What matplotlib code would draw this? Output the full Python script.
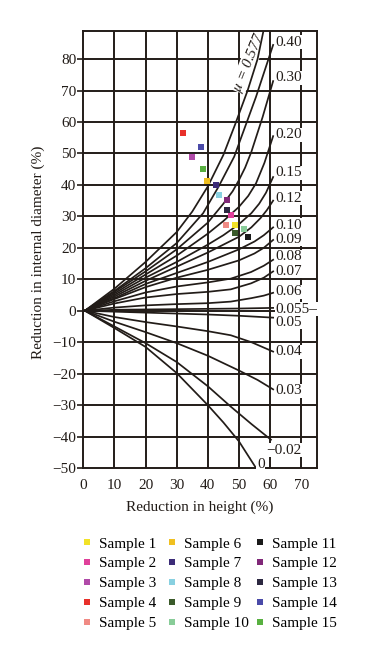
import matplotlib
matplotlib.use("Agg")
import matplotlib.pyplot as plt
from matplotlib.lines import Line2D

plt.rcParams["font.family"] = ["Liberation Serif", "DejaVu Serif"]
plt.rcParams["mathtext.fontset"] = "stix"

INK = "#221c18"
FS = 11

# Calibration curves (reduction in height %, reduction in internal diameter %)
c_0577 = [(0.5, 0), (10, 7), (20, 15.5), (30, 25), (35, 31.5), (40, 39.5), (45, 49.5),
          (48.7, 59), (52.8, 70), (56, 80), (57.9, 89)]
c_040 = [(0.5, 0), (10, 6.3), (20, 13.5), (30, 21.5), (38.5, 31), (43.5, 39.5), (48.5, 49),
         (52, 58.5), (55.5, 68), (58.5, 77), (61, 84.5)]
c_030 = [(0.5, 0), (10, 6), (20, 12.5), (30, 19.5), (40, 28), (45, 34), (48, 38), (50, 41.5),
         (52, 45.5), (54, 50.5), (57.6, 61.5), (61, 73)]
c_020 = [(0.5, 0), (10, 5.5), (20, 11.5), (30, 17.5), (40, 24.5), (45, 28.5), (50, 33),
         (53, 36.5), (55.5, 40.5), (58.2, 47), (61, 55.5)]
c_015 = [(0.5, 0), (10, 5), (20, 10.5), (30, 15.5), (40, 21), (45, 24), (50, 27.5),
         (54, 31), (56.5, 34), (58.7, 37.5), (61, 42.5)]
c_012 = [(0.5, 0), (10, 4.5), (20, 9.5), (30, 14), (40, 18.5), (45, 21), (50, 23.5),
         (54, 26.5), (57, 29.5), (59, 32), (61, 35)]
c_010 = [(0.5, 0), (10, 4), (20, 8.5), (30, 12), (40, 15.5), (45, 17.5), (50, 19.5),
         (55, 22), (58, 24), (61, 26.5)]
c_009 = [(0.5, 0), (10, 3.7), (20, 7.5), (30, 10.5), (40, 13), (45, 14.5), (50, 16),
         (55, 18.2), (58, 20), (61, 22.5)]
c_008 = [(0.5, 0), (10, 3), (20, 5.8), (30, 7.7), (40, 9), (47.4, 10.2), (53.9, 12.3),
         (58, 14.3), (61, 16.2)]
c_007 = [(0.5, 0), (10, 2.3), (20, 4.2), (30, 5.3), (40, 6), (47.4, 6.8), (53.9, 8.7),
         (58, 10.5), (61, 12.5)]
c_006 = [(0.5, 0), (10, 1), (20, 1.7), (30, 2.1), (40, 2.4), (47.4, 2.9), (54, 4),
         (58, 4.8), (61, 5.7)]
c_0055 = [(0.5, 0), (10, 0.3), (20, 0.4), (30, 0.5), (40, 0.6), (50, 0.7), (61, 0.9)]
c_005 = [(0.5, 0), (10, -0.3), (20, -0.6), (30, -0.9), (40, -1.2), (50, -1.6), (61, -2.2)]
c_004 = [(0.5, 0), (10, -2), (20, -3.6), (30, -5), (40, -6.5), (47.4, -7.8), (54, -10),
         (61, -13)]
c_003 = [(0.5, 0), (10, -3.5), (20, -6.8), (30, -10.3), (40, -14.3), (50, -19), (56, -22),
         (61, -25)]
c_002 = [(0.5, 0), (10, -5), (20, -10.3), (30, -16.3), (40, -24), (47.4, -30.5), (54, -36),
         (60.3, -41)]
c_000 = [(0.5, 0), (10, -5.5), (20, -11.5), (30, -19.8), (40, -30), (45, -35.5), (50, -41.5),
         (55.5, -50)]

curves = [c_0577, c_040, c_030, c_020, c_015, c_012, c_010, c_009, c_008, c_007,
          c_006, c_0055, c_005, c_004, c_003, c_002, c_000]

# curve labels: text, x, y
label_text = ["0.40", "0.30", "0.20", "0.15", "0.12", "0.10", "0.09", "0.08", "0.07",
              "0.06", "0.055\u2013", "0.05", "0.04", "0.03", "\u22120.02", "0"]
label_x = [61.8, 61.8, 61.8, 61.8, 61.8, 61.8, 61.8, 61.8, 61.8,
           61.8, 61.8, 61.8, 61.8, 61.8, 58.7, 55.8]
label_y = [85.4, 74.0, 55.9, 43.8, 35.8, 27.2, 22.8, 17.1, 12.6,
           6.0, 0.5, -3.6, -13.1, -25.5, -44.3, -49]

# samples
sample_names = ["Sample %d" % i for i in range(1, 16)]
sample_x = [48.6, 47.4, 34.9, 31.9, 45.7, 39.7, 42.6, 43.7, 48.6, 51.7, 53.0, 46.3, 46.3, 37.9, 38.4]
sample_y = [27.2, 30.5, 48.9, 56.6, 27.2, 41.4, 40.0, 36.8, 24.8, 25.9, 23.3, 35.1, 31.9, 52.2, 44.9]
sample_colors = ["#f2e228", "#e0409a", "#b04aa8", "#e8302a", "#f08a84",
                 "#f0c020", "#3c2c78", "#88d0e0", "#3a5a2a", "#88cc98",
                 "#1a1a1a", "#802878", "#2c2840", "#4a4aa8", "#58b040"]

xticks = list(range(0, 71, 10))
yticks = list(range(-50, 81, 10))

fig = plt.figure(figsize=(3.66, 6.6), dpi=100)
ax = fig.add_axes([0.2276, 0.2909, 0.6377, 0.662])

for v in xticks[1:]:
    ax.axvline(v, color=INK, lw=1.4, zorder=1)
for v in yticks[1:]:
    ax.axhline(v, color=INK, lw=1.4, zorder=1)

for c in curves:
    xs = [p[0] for p in c]
    ys = [p[1] for p in c]
    ax.plot(xs, ys, color=INK, lw=1.25, zorder=3)

for t, x, y in zip(label_text, label_x, label_y):
    ax.text(x, y, t, ha="left", va="center", fontsize=FS, color=INK,
            bbox=dict(boxstyle="square,pad=0.05", fc="white", ec="none"), zorder=3)

# mu label sits just left of the 0.577 curve
ax.text(53.1, 79, r"$\mu$ = 0.577", rotation=68, ha="center", va="center",
        fontsize=FS, color=INK, fontstyle="italic",
        bbox=dict(boxstyle="square,pad=0.0", fc="white", ec="none"), zorder=2)

for x, y, c in zip(sample_x, sample_y, sample_colors):
    ax.plot(x, y, "s", color=c, ms=3.8, mew=0, zorder=4)

ax.set_xlim(0, 75)
ax.set_ylim(-50, 88.9)
ax.set_xticks(xticks)
ax.set_yticks(yticks)
ax.tick_params(axis="y", direction="out", length=4, width=1.2, pad=1, labelsize=FS,
               color=INK, labelcolor=INK)
ax.tick_params(axis="x", length=0, pad=8, labelsize=FS, labelcolor=INK)
for s in ax.spines.values():
    s.set_color(INK)
    s.set_linewidth(1.4)

ax.set_xlabel("Reduction in height (%)", fontsize=FS, color=INK)
ax.xaxis.set_label_coords(0.5, -0.075)
ax.set_ylabel("Reduction in internal diameter (%)", fontsize=FS, color=INK)
ax.yaxis.set_label_coords(-0.162, 0.494)

# legend: three columns of five, placed one by one
col_left = [81, 166, 254]
for k in range(3):
    idx = range(5 * k, 5 * k + 5)
    hs = [Line2D([], [], ls="none", marker="s", ms=4, mew=0, color=sample_colors[i]) for i in idx]
    fig.legend(hs, [sample_names[i] for i in idx], loc="upper left",
               bbox_to_anchor=(col_left[k] / 366, 0.1864), frameon=False, fontsize=FS,
               handlelength=0.8, handletextpad=0.4, labelspacing=0.4, borderpad=0,
               borderaxespad=0)

fig.savefig("out.png", dpi=100)
